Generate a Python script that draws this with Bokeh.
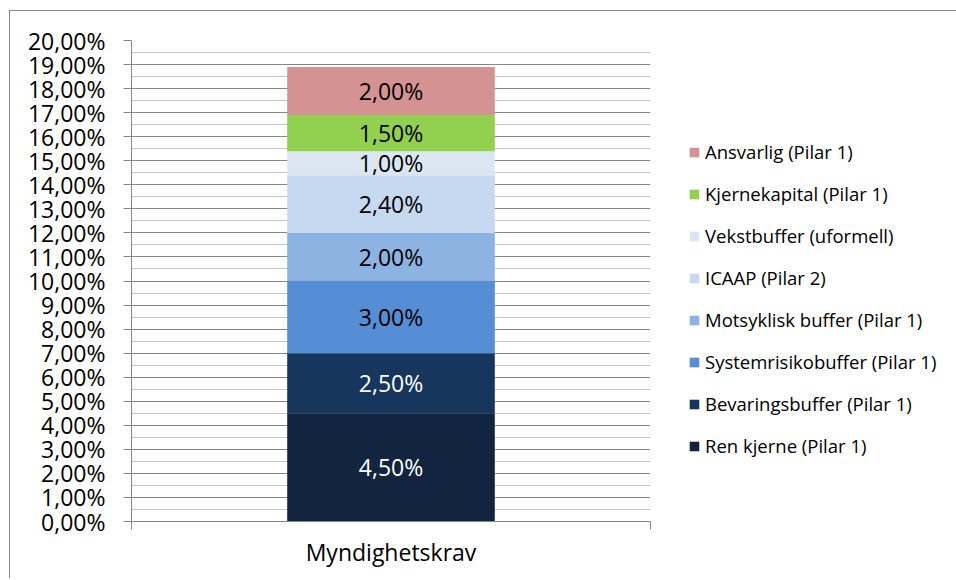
from bokeh.plotting import figure
from bokeh.models import Range1d, FixedTicker, Legend, LegendItem, ColumnDataSource
from bokeh.core.properties import value
from bokeh.embed import file_html
from bokeh.resources import INLINE

categories = ["Myndighetskrav"]
series = ["Ren kjerne (Pilar 1)", "Bevaringsbuffer (Pilar 1)", "Systemrisikobuffer (Pilar 1)",
          "Motsyklisk buffer (Pilar 1)", "ICAAP (Pilar 2)", "Vekstbuffer (uformell)",
          "Kjernekapital (Pilar 1)", "Ansvarlig (Pilar 1)"]
values = [4.5, 2.5, 3.0, 2.0, 2.4, 1.0, 1.5, 2.0]
colors = ["#12243f", "#17365d", "#558ed5", "#8db3e2", "#c6d9f1", "#dce6f2", "#92d050", "#d49392"]
label_colors = ["white", "white", "black", "black", "black", "black", "black", "black"]
y_ticks = list(range(0, 21))
y_tick_labels = ["0,00%", "1,00%", "2,00%", "3,00%", "4,00%", "5,00%", "6,00%", "7,00%", "8,00%",
                 "9,00%", "10,00%", "11,00%", "12,00%", "13,00%", "14,00%", "15,00%", "16,00%",
                 "17,00%", "18,00%", "19,00%", "20,00%"]

FONT = "Open Sans"
GRID = "#868686"

p = figure(frame_width=519, frame_height=481, output_backend="svg", toolbar_location=None,
           x_range=Range1d(0, len(categories)), y_range=Range1d(0, 20),
           min_border_left=121, min_border_right=305, min_border_top=29, min_border_bottom=57)
p.styles = {"border-top": "1px solid #898989", "border-left": "1px solid #898989",
            "margin-left": "9px", "margin-top": "10px"}
p.outline_line_color = None
p.background_fill_color = "white"
p.border_fill_color = "white"

# y axis
yax = p.yaxis[0]
minor = [i + 0.5 for i in y_ticks[:-1]]
yticker = FixedTicker(ticks=y_ticks, minor_ticks=minor)
yax.ticker = yticker
p.ygrid.ticker = yticker
yax.major_label_overrides = {t: l for t, l in zip(y_ticks, y_tick_labels)}
yax.axis_line_color = GRID
yax.major_tick_line_color = GRID
yax.major_tick_out = 8
yax.major_tick_in = 0
yax.minor_tick_line_color = None
yax.major_label_standoff = 18
yax.major_label_text_font = FONT
yax.major_label_text_font_size = "23px"
yax.major_label_text_color = "black"

# x axis
xax = p.xaxis[0]
xax.ticker = FixedTicker(ticks=[i + 0.5 for i in range(len(categories))],
                         minor_ticks=list(range(len(categories) + 1)))
xax.major_label_overrides = {i + 0.5: c for i, c in enumerate(categories)}
xax.axis_line_color = GRID
xax.major_tick_line_color = None
xax.major_tick_out = 0
xax.minor_tick_line_color = GRID
xax.minor_tick_out = 8
xax.minor_tick_in = 0
xax.major_label_standoff = 6
xax.major_label_text_font = FONT
xax.major_label_text_font_size = "23px"
xax.major_label_text_color = "black"

p.xgrid.grid_line_color = None
p.ygrid.grid_line_color = GRID
p.ygrid.minor_grid_line_color = "#c4c4c4"

renderers = []
bottom = 0.0
for s, v, c, lc in zip(series, values, colors, label_colors):
    src = ColumnDataSource(dict(x=[i + 0.5 for i in range(len(categories))], bottom=[bottom], top=[bottom + v],
                                mid=[bottom + v / 2], lab=[f"{v:.2f}".replace(".", ",") + "%"]))
    r = p.vbar(x="x", bottom="bottom", top="top", width=0.4, source=src, fill_color=c, line_color=None)
    p.text(x="x", y="mid", text="lab", source=src, text_align="center", text_baseline="middle",
           text_color=lc, text_font=value(FONT), text_font_size="23px")
    renderers.append((s, r))
    bottom += v

items = [LegendItem(label=s, renderers=[r]) for s, r in reversed(renderers)]
legend = Legend(items=items, location=(38, 63), orientation="vertical",
                glyph_width=12, glyph_height=12, label_standoff=5, label_height=24, spacing=17,
                label_text_font=FONT, label_text_font_size="18.5px", label_text_color="black",
                border_line_color=None, background_fill_alpha=0, padding=0, margin=0)
p.add_layout(legend, "right")

open("out.html", "w").write(file_html(p, INLINE))
